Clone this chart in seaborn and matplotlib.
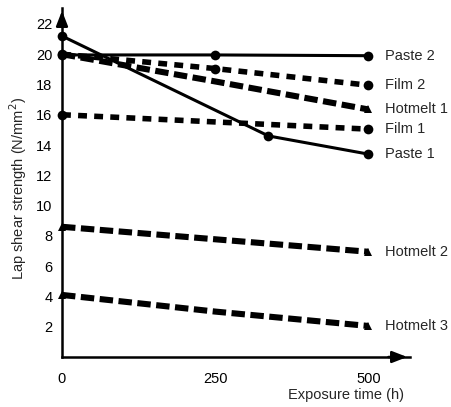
import matplotlib
matplotlib.use("Agg")
import matplotlib.pyplot as plt
import seaborn as sns
import pandas as pd

sns.set_style("white")
plt.rcParams["font.family"] = ["Liberation Sans", "DejaVu Sans"]

# Lap shear strength (N/mm²) versus exposure time (h)
paste2_t = [0, 250, 500]
paste2_v = [19.95, 19.95, 19.9]
film2_t = [0, 250, 500]
film2_v = [20.0, 19.05, 17.95]
hotmelt1_t = [0, 250, 500]
hotmelt1_v = [20.0, 18.2, 16.35]
film1_t = [0, 500]
film1_v = [16.0, 15.05]
paste1_t = [0, 337, 500]
paste1_v = [21.2, 14.6, 13.4]
hotmelt2_t = [0, 500]
hotmelt2_v = [8.6, 6.95]
hotmelt3_t = [0, 250, 500]
hotmelt3_v = [4.1, 3.0, 2.05]

series_names = ["Paste 2", "Film 2", "Hotmelt 1", "Film 1", "Paste 1", "Hotmelt 2", "Hotmelt 3"]
series_t = [paste2_t, film2_t, hotmelt1_t, film1_t, paste1_t, hotmelt2_t, hotmelt3_t]
series_v = [paste2_v, film2_v, hotmelt1_v, film1_v, paste1_v, hotmelt2_v, hotmelt3_v]

x_ticks = [0, 250, 500]
y_ticks = [2, 4, 6, 8, 10, 12, 14, 16, 18, 20, 22]

styles = {
    "Paste 2": dict(ls="-", lw=2.2, marker="o", ms=7, markevery=None),
    "Paste 1": dict(ls="-", lw=2.2, marker="o", ms=7, markevery=None),
    "Film 2": dict(ls=(0, (1.6, 1.3)), lw=4.0, marker="o", ms=7, markevery=None),
    "Film 1": dict(ls=(0, (1.6, 1.3)), lw=4.0, marker="o", ms=7, markevery=None),
    "Hotmelt 1": dict(ls=(0, (2.2, 0.9)), lw=4.4, marker="^", ms=6, markevery=[-1]),
    "Hotmelt 2": dict(ls=(0, (2.2, 0.9)), lw=4.4, marker="^", ms=6, markevery=[0, -1]),
    "Hotmelt 3": dict(ls=(0, (2.2, 0.9)), lw=4.4, marker="^", ms=6, markevery=[0, -1]),
}

fig = plt.figure(figsize=(4.52, 4.07), dpi=100)
ax = fig.add_axes([62 / 452, 1 - 357 / 407, 348 / 452, 349 / 407])

for name, t, v in zip(series_names, series_t, series_v):
    st = styles[name]
    df = pd.DataFrame({"t": t, "v": v})
    kw = dict(color="black", linestyle=st["ls"], linewidth=st["lw"],
              marker=st["marker"], markersize=st["ms"], markeredgewidth=0,
              dash_capstyle="butt", clip_on=False)
    if st["markevery"] is not None:
        kw["markevery"] = st["markevery"]
    sns.lineplot(data=df, x="t", y="v", ax=ax, **kw)
    ax.text(t[-1] + 28, v[-1], name, fontsize=10.5, va="center", ha="left",
            clip_on=False)

ax.set_xlim(0, 568)
ax.set_ylim(0, 23.05)
ax.set_xticks(x_ticks)
ax.set_yticks(y_ticks)
ax.set_xticklabels([str(x) for x in x_ticks], fontsize=10.5)
ax.set_yticklabels([str(y) for y in y_ticks], fontsize=10.5)
ax.tick_params(axis="y", direction="out", length=4, width=1.2, pad=3, colors="black")
ax.tick_params(axis="x", direction="out", length=3, width=1.2, pad=8, colors="black")
ax.set_xlabel("")
ax.set_ylabel("")

for side in ["top", "right"]:
    ax.spines[side].set_visible(False)
for side in ["left", "bottom"]:
    ax.spines[side].set_linewidth(1.8)
    ax.spines[side].set_color("black")

# arrow heads on both axes
ax.annotate("", xy=(1.0, 0), xytext=(0.93, 0), xycoords="axes fraction",
            arrowprops=dict(arrowstyle="-|>,head_length=0.9,head_width=0.35",
                            color="black", lw=1.8))
ax.annotate("", xy=(0, 1.0), xytext=(0, 0.95), xycoords="axes fraction",
            arrowprops=dict(arrowstyle="-|>,head_length=0.9,head_width=0.35",
                            color="black", lw=1.8))

fig.text(18 / 452, 1 - 189 / 407, "Lap shear strength (N/mm$^2$)", rotation=90,
         fontsize=10.5, ha="center", va="center")
fig.text(346 / 452, 1 - 395 / 407, "Exposure time (h)", fontsize=10.5,
         ha="center", va="center")

fig.savefig("out.png", dpi=100)
